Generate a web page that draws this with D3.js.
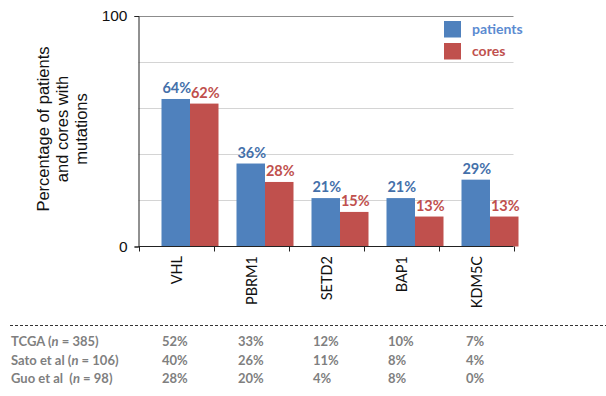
<!DOCTYPE html>
<html>
<head>
<meta charset="utf-8">
<script src="https://cdn.jsdelivr.net/npm/d3@7/dist/d3.min.js"></script>
<style>
  html, body { margin: 0; padding: 0; background: #fff; }
  svg { display: block; }
</style>
</head>
<body>
<svg id="chart" width="606" height="396"></svg>
<script>
// Mutation frequency per gene
const genes = ["VHL", "PBRM1", "SETD2", "BAP1", "KDM5C"];
const patients = [64, 36, 21, 21, 29];
const cores = [62, 28, 15, 13, 13];
const series = ["patients", "cores"];
const yTicks = [0, 100];
const gridValues = [20, 40, 60, 80, 100];

// Reference cohorts listed under the chart
const cohorts = ["TCGA", "Sato et al", "Guo et al "];
const cohortN = [385, 106, 98];
const tcga = ["52%", "33%", "12%", "10%", "7%"];
const sato = ["40%", "26%", "11%", "8%", "4%"];
const guo = ["28%", "20%", "4%", "8%", "0%"];

const colors = { patients: "#4f81bd", cores: "#c0504d" };
const labelColors = { patients: "#4470aa", cores: "#c0504d" };

const svg = d3.select("#chart");

const x = d3.scaleBand().domain(genes).range([138.5, 513.5]).padding(0);
const xs = d3.scaleBand().domain(series).range([23, 80]).padding(0);
const y = d3.scaleLinear().domain([0, 100]).range([246.5, 16]);

// Horizontal gridlines
svg.append("g").selectAll("line").data(gridValues).join("line")
  .attr("x1", 138.5).attr("x2", 513.5)
  .attr("y1", d => Math.round(y(d)) + 0.5).attr("y2", d => Math.round(y(d)) + 0.5)
  .attr("stroke", d => d === 100 ? "#8c8c8c" : "#d4d4d4")
  .attr("stroke-width", 1);

// Bars
const rows = genes.map((g, i) => ({ gene: g, values: [
  { key: "patients", v: patients[i] }, { key: "cores", v: cores[i] } ] }));

const groups = svg.append("g").selectAll("g").data(rows).join("g")
  .attr("transform", d => `translate(${x(d.gene)},0)`);

groups.selectAll("rect").data(d => d.values).join("rect")
  .attr("x", d => xs(d.key))
  .attr("width", xs.bandwidth())
  .attr("y", d => y(d.v))
  .attr("height", d => y(0) - y(d.v))
  .attr("fill", d => colors[d.key]);

groups.selectAll("text").data(d => d.values).join("text")
  .attr("x", d => xs(d.key) + xs.bandwidth() / 2 + 1)
  .attr("y", d => y(d.v) - 6)
  .attr("text-anchor", "middle")
  .attr("font-family", "Lato, 'Open Sans', sans-serif")
  .attr("font-weight", "bold")
  .attr("font-size", 14.5)
  .attr("fill", d => labelColors[d.key])
  .text(d => d.v + "%");

// Y axis
const yAxis = d3.axisLeft(y).tickValues(yTicks).tickSize(4).tickPadding(7);
const gy = svg.append("g").attr("transform", "translate(138.5,0)").call(yAxis);
gy.select(".domain").attr("stroke", "#222");
gy.selectAll(".tick line").attr("stroke", "#222");
gy.selectAll(".tick text")
  .attr("font-family", "'Liberation Sans', Arial, sans-serif")
  .attr("font-size", 15.5).attr("fill", "#111");

// X axis with ticks at band boundaries
const gx = svg.append("g").attr("transform", `translate(0,${y(0)})`);
gx.append("line").attr("x1", 138.5).attr("x2", 513.5).attr("y1", 0).attr("y2", 0)
  .attr("stroke", "#222");
const bounds = genes.map(g => x(g)).concat([x(genes[genes.length - 1]) + x.bandwidth()]);
gx.selectAll("line.tk").data(bounds).join("line").attr("class", "tk")
  .attr("x1", d => Math.round(d) + 0.5).attr("x2", d => Math.round(d) + 0.5)
  .attr("y1", 0).attr("y2", 5).attr("stroke", "#222");

svg.append("g").selectAll("text").data(genes).join("text")
  .attr("transform", d => `translate(${x(d) + x.bandwidth() / 2 + 1},256) rotate(-90)`)
  .attr("text-anchor", "end")
  .attr("dy", "0.35em")
  .attr("font-family", "Lato, 'Open Sans', sans-serif")
  .attr("font-size", 14.5)
  .attr("fill", "#111")
  .text(d => d);

// Y axis title
const titleLines = ["Percentage of patients", "and cores with", "mutations"];
svg.append("g").attr("transform", "translate(43,129) rotate(-90)")
  .selectAll("text").data(titleLines).join("text")
  .attr("x", 0).attr("y", (d, i) => i * 19)
  .attr("dy", "0.35em")
  .attr("text-anchor", "middle")
  .attr("font-family", "'Liberation Sans', Arial, sans-serif")
  .attr("font-size", 16.5)
  .attr("fill", "#111")
  .text(d => d);

// Legend
const legend = svg.append("g").selectAll("g").data(series).join("g")
  .attr("transform", (d, i) => `translate(444,${21 + i * 22})`);
legend.append("rect").attr("width", 17).attr("height", 16.5)
  .attr("fill", d => colors[d]);
legend.append("text").attr("x", 28).attr("y", 8).attr("dy", "0.35em")
  .attr("font-family", "Lato, 'Open Sans', sans-serif")
  .attr("font-weight", "bold").attr("font-size", 14)
  .attr("fill", d => d === "patients" ? "#5b8bd1" : "#c0504d")
  .text(d => d);

// Cohort table
svg.append("line").attr("x1", 10).attr("x2", 606).attr("y1", 325.5).attr("y2", 325.5)
  .attr("stroke", "#333").attr("stroke-dasharray", "3,2");

const tableRows = [tcga, sato, guo];
const colX = [162, 238, 313, 388, 466];
const table = svg.append("g").attr("font-family", "Lato, 'Open Sans', sans-serif")
  .attr("font-weight", "bold").attr("font-size", 13).attr("fill", "#7f7f7f");

tableRows.forEach((vals, r) => {
  const by = 346 + r * 18.5;
  const lbl = table.append("text").attr("x", 11).attr("y", by)
    .attr("xml:space", "preserve");
  lbl.append("tspan").attr("xml:space", "preserve").text(cohorts[r] + " (");
  lbl.append("tspan").attr("font-style", "italic").text("n");
  lbl.append("tspan").attr("xml:space", "preserve").text(" = " + cohortN[r] + ")");
  table.append("g").selectAll("text").data(vals).join("text")
    .attr("x", (d, i) => colX[i]).attr("y", by).text(d => d);
});
</script>
</body>
</html>
